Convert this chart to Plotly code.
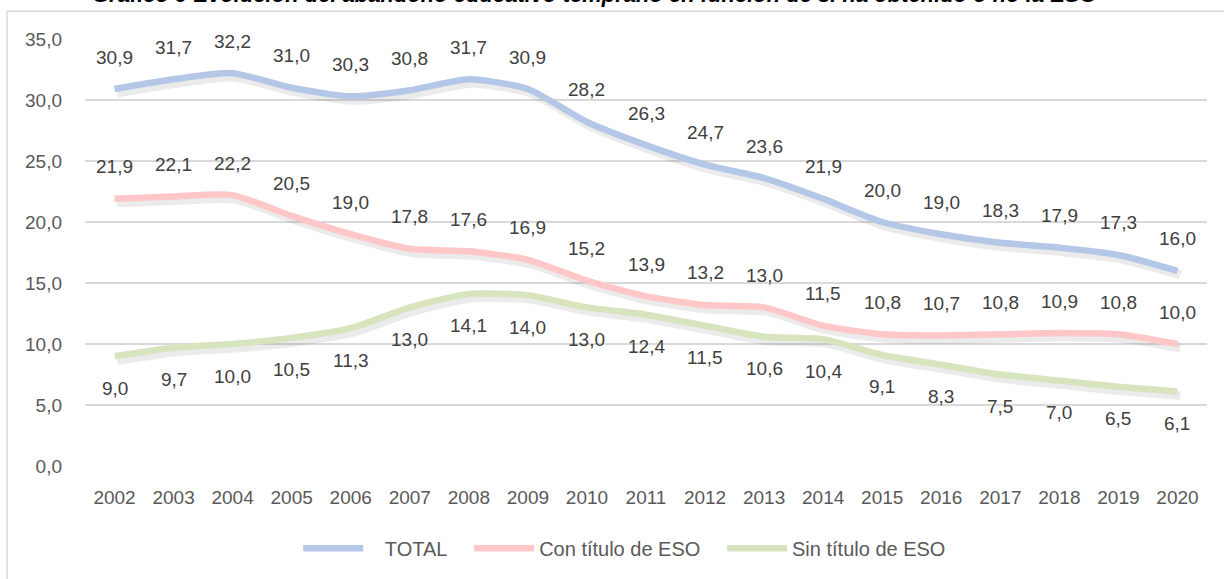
import plotly.graph_objects as go

years = list(range(2002, 2021))
total = [30.9, 31.7, 32.2, 31.0, 30.3, 30.8, 31.7, 30.9, 28.2, 26.3, 24.7, 23.6, 21.9, 20.0, 19.0, 18.3, 17.9, 17.3, 16.0]
con_titulo = [21.9, 22.1, 22.2, 20.5, 19.0, 17.8, 17.6, 16.9, 15.2, 13.9, 13.2, 13.0, 11.5, 10.8, 10.7, 10.8, 10.9, 10.8, 10.0]
sin_titulo = [9.0, 9.7, 10.0, 10.5, 11.3, 13.0, 14.1, 14.0, 13.0, 12.4, 11.5, 10.6, 10.4, 9.1, 8.3, 7.5, 7.0, 6.5, 6.1]

NB = "\u00a0"
series = [
    (NB * 3 + "TOTAL" + NB * 3, total, "#B4C7E7", 1),
    ("Con título de ESO" + NB * 3, con_titulo, "#FFC7C7", 1),
    ("Sin título de ESO", sin_titulo, "#D7E4BD", -1),
]

FONT = "Arial, Liberation Sans, sans-serif"
fig = go.Figure()

# soft shadows under the lines
for name, vals, color, side in series:
    fig.add_trace(go.Scatter(
        x=[y + 0.05 for y in years], y=[v - 0.33 for v in vals], mode="lines",
        line=dict(color="rgba(0,0,0,0.08)", width=9, shape="spline", smoothing=0.6),
        hoverinfo="skip", showlegend=False))

for name, vals, color, side in series:
    fig.add_trace(go.Scatter(
        x=years, y=vals, mode="lines", name=name,
        line=dict(color=color, width=6.5, shape="spline", smoothing=0.6)))

annotations = []
for name, vals, color, side in series:
    for yr, v in zip(years, vals):
        annotations.append(dict(
            x=yr, y=v, xref="x", yref="y", text=f"{v:.1f}".replace(".", ","),
            showarrow=False, yshift=32 * side,
            font=dict(family=FONT, size=19, color="#404040")))

annotations.append(dict(
    text="<b><i>Gráfico 9 Evolución del abandono educativo temprano en función de si ha obtenido o no la ESO</i></b>",
    xref="paper", yref="paper", x=0.4545, y=1.105, xanchor="center", yanchor="middle",
    showarrow=False, font=dict(family=FONT, size=22, color="#000000")))

fig.update_layout(
    width=1224, height=579,
    margin=dict(l=85, r=17, t=39, b=112),
    paper_bgcolor="white", plot_bgcolor="white",
    separators=",.",
    font=dict(family=FONT, size=19, color="#595959"),
    xaxis=dict(range=[2001.5, 2020.5], tickvals=years, ticktext=[str(y) for y in years],
               showgrid=False, zeroline=False, showline=False,
               ticks="outside", ticklen=0, ticklabelstandoff=14,
               tickfont=dict(family=FONT, size=19, color="#595959")),
    yaxis=dict(range=[0, 35], dtick=5, tickformat=".1f", showgrid=True,
               gridcolor="#D9D9D9", gridwidth=1.5, zeroline=False, showline=False,
               ticklabelstandoff=22,
               tickfont=dict(family=FONT, size=19, color="#595959")),
    legend=dict(orientation="h", x=0.481, xanchor="center", y=-0.19, yanchor="middle",
                font=dict(family=FONT, size=20, color="#595959"), itemwidth=60),
    annotations=annotations,
    shapes=[dict(type="rect", xref="paper", yref="paper", x0=-0.0695, x1=1.03, y0=-0.3, y1=1.065,
                 line=dict(color="#D9D9D9", width=1.5), fillcolor="rgba(0,0,0,0)", layer="below")],
)

fig.write_html("out.html", config={"displayModeBar": False},
               post_script="document.body.style.margin='0';")
